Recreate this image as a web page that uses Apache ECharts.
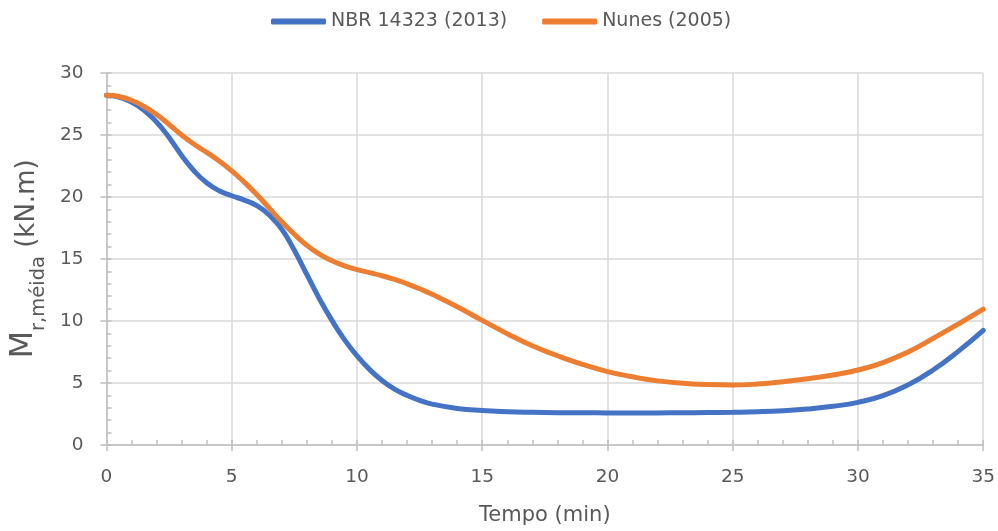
<!DOCTYPE html>
<html>
<head>
<meta charset="utf-8">
<script src="https://cdn.jsdelivr.net/npm/echarts@6/dist/echarts.min.js"></script>
<style>html,body{margin:0;padding:0;background:#fff}#c{width:998px;height:531px}</style>
</head>
<body>
<div id="c"></div>
<script>
var times = [0,0.5,1,1.5,2,2.5,3,3.5,4,4.5,5,5.5,6,6.5,7,7.5,8,8.5,9,9.5,10,10.5,11,11.5,12,12.5,13,
             14,15,16,17,18,19,20,21,22,23,24,25,26,27,28,29,30,31,32,33,34,35];
var nbr = [28.2,28.05,27.65,27.0,26.05,24.8,23.35,22.1,21.15,20.5,20.1,19.75,19.3,18.55,17.4,15.7,13.75,11.8,10.05,8.5,7.2,6.1,5.2,4.5,4.0,3.6,3.3,
           2.95,2.78,2.69,2.64,2.61,2.6,2.59,2.59,2.59,2.6,2.62,2.64,2.68,2.76,2.9,3.12,3.44,3.98,4.85,6.05,7.55,9.25];
var nunes = [28.2,28.1,27.8,27.3,26.65,25.85,25.0,24.25,23.6,22.9,22.1,21.2,20.2,19.1,18.0,17.0,16.1,15.4,14.85,14.45,14.15,13.9,13.65,13.35,13.0,12.6,12.15,
             11.15,10.05,8.98,8.0,7.2,6.5,5.92,5.5,5.17,4.98,4.87,4.84,4.92,5.1,5.35,5.65,6.05,6.65,7.5,8.6,9.75,10.95];
var seriesNames = ['NBR 14323 (2013)', 'Nunes (2005)'];
var xTitle = 'Tempo (min)';

function pairs(v){ return times.map(function(t,i){ return [t, v[i]]; }); }

var chart = echarts.init(document.getElementById('c'));
var txt = '#595959';
var font = 'DejaVu Sans';
var axisCol = '#BFBFBF';
var gridCol = '#D9D9D9';
var baseAxis = { type: 'value', min: 0, interval: 5 };
chart.setOption({
  animation: false,
  textStyle: { fontFamily: font },
  legend: {
    top: 12, left: 271, padding: 0,
    icon: 'roundRect', itemWidth: 55, itemHeight: 6, itemGap: 35,
    textStyle: { color: txt, fontSize: 19, fontFamily: font },
    data: seriesNames
  },
  grid: { left: 104, right: 14, top: 73, bottom: 83 },
  xAxis: [
    Object.assign({}, baseAxis, {
      max: 35,
      name: xTitle, nameLocation: 'middle', nameGap: 60,
      nameTextStyle: { color: txt, fontSize: 21, fontFamily: font },
      axisLine: { show: true, lineStyle: { color: axisCol, width: 1.5 } },
      axisTick: { show: true, inside: false, length: 6, lineStyle: { color: axisCol, width: 1.5 } },
      axisLabel: { color: txt, fontSize: 18.5, margin: 23, fontFamily: font },
      splitLine: { show: true, lineStyle: { color: gridCol, width: 1.5 } }
    }),
    Object.assign({}, baseAxis, {
      max: 35, position: 'bottom',
      axisLine: { show: false },
      axisTick: { show: true, inside: true, length: 5, lineStyle: { color: axisCol, width: 1.5 } },
      minorTick: { show: true, splitNumber: 5, length: 5, lineStyle: { color: axisCol, width: 1.5 } },
      axisLabel: { show: false },
      splitLine: { show: false }
    })
  ],
  yAxis: [
    Object.assign({}, baseAxis, {
      max: 30,
      name: '{m|M}{s|r,méida}{u| (kN.m)}', nameLocation: 'middle', nameGap: 47, nameRotate: 90,
      nameTextStyle: {
        color: txt, fontFamily: font,
        rich: {
          m: { fontSize: 32, color: txt, fontFamily: font, verticalAlign: 'bottom', lineHeight: 32, padding: [0,0,9,0] },
          s: { fontSize: 19.5, color: txt, fontFamily: font, verticalAlign: 'bottom', lineHeight: 20 },
          u: { fontSize: 26, color: txt, fontFamily: font, verticalAlign: 'bottom', lineHeight: 26, padding: [0,0,9,0] }
        }
      },
      axisLine: { show: true, lineStyle: { color: axisCol, width: 1.5 } },
      axisTick: { show: true, inside: false, length: 6, lineStyle: { color: axisCol, width: 1.5 } },
      axisLabel: { color: txt, fontSize: 18.5, margin: 23, fontFamily: font },
      splitLine: { show: true, lineStyle: { color: gridCol, width: 1.5 } }
    }),
    Object.assign({}, baseAxis, {
      max: 30, position: 'left',
      axisLine: { show: false },
      axisTick: { show: true, inside: true, length: 5, lineStyle: { color: axisCol, width: 1.5 } },
      minorTick: { show: true, splitNumber: 5, length: 5, lineStyle: { color: axisCol, width: 1.5 } },
      axisLabel: { show: false },
      splitLine: { show: false }
    })
  ],
  series: [
    { name: seriesNames[0], type: 'line', smooth: 0.5, showSymbol: false, symbol: 'none',
      xAxisIndex: 0, yAxisIndex: 0,
      itemStyle: { color: '#4472C4' }, lineStyle: { color: '#4472C4', width: 5, cap: 'round' }, data: pairs(nbr) },
    { name: seriesNames[1], type: 'line', smooth: 0.5, showSymbol: false, symbol: 'none',
      xAxisIndex: 0, yAxisIndex: 0,
      itemStyle: { color: '#ED7D31' }, lineStyle: { color: '#ED7D31', width: 5, cap: 'round' }, data: pairs(nunes) }
  ]
});
</script>
</body>
</html>
